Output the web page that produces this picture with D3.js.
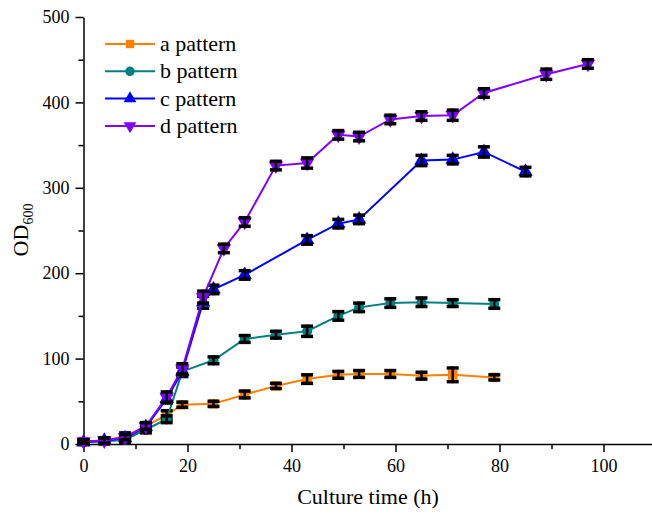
<!DOCTYPE html>
<html>
<head>
<meta charset="utf-8">
<script src="https://cdn.jsdelivr.net/npm/d3@7"></script>
<style>
  body { margin: 0; background: #fff; }
</style>
</head>
<body>
<div id="chart"></div>
<script>
// culture time (h) and OD600 readings per pattern
var timeA = [0, 4, 8, 12, 16, 19, 25, 31, 37, 43, 49, 53, 59, 65, 71, 79];
var valA  = [3, 4, 9, 21, 34, 46, 47, 58, 68, 76, 81, 82, 82, 80, 81, 78];
var errA  = [2, 3, 4, 4, 5, 3, 3, 4, 3, 5, 4, 4, 4, 4, 8, 3];

var timeB = [0, 4, 8, 12, 16, 19, 25, 31, 37, 43, 49, 53, 59, 65, 71, 79];
var valB  = [2, 3, 5, 17, 29, 85, 98, 123, 128, 132, 150, 160, 165, 166, 165, 164];
var errB  = [2, 3, 3, 4, 4, 5, 4, 4, 4, 6, 5, 5, 5, 5, 4, 5];

var timeC = [0, 4, 8, 12, 16, 19, 23, 25, 31, 43, 49, 53, 65, 71, 77, 85];
var valC  = [2, 4, 7, 20, 53, 85, 166, 181, 198, 239, 258, 263, 332, 333, 342, 319];
var errC  = [2, 3, 3, 4, 5, 6, 7, 5, 5, 5, 5, 5, 6, 5, 6, 5];

var timeD = [0, 4, 8, 12, 16, 19, 23, 27, 31, 37, 43, 49, 53, 59, 65, 71, 77, 89, 97];
var valD  = [3, 4, 8, 21, 55, 88, 172, 229, 260, 326, 329, 362, 360, 380, 384, 385, 411, 433, 445];
var errD  = [2, 3, 3, 4, 6, 6, 7, 5, 5, 5, 6, 5, 5, 5, 5, 6, 5, 6, 5];

var seriesNames = ["a pattern", "b pattern", "c pattern", "d pattern"];
var seriesColors = ["#ff8000", "#008080", "#0000ff", "#8000ff"];
var seriesShapes = [d3.symbolSquare, d3.symbolCircle, d3.symbolTriangle, "down"];

var xTicks = [0, 20, 40, 60, 80, 100];
var yTicks = [0, 100, 200, 300, 400, 500];

var FONT = "'Liberation Serif', 'Times New Roman', serif";

function pack(t, v, e) {
  return t.map(function (d, i) { return { t: d, v: v[i], e: e[i] }; });
}
var allSeries = [pack(timeA, valA, errA), pack(timeB, valB, errB),
                 pack(timeC, valC, errC), pack(timeD, valD, errD)];

var W = 652, H = 520;
var svg = d3.select("#chart").append("svg").attr("width", W).attr("height", H);

var x = d3.scaleLinear().domain([0, 110]).range([83.5, 655.5]);
var y = d3.scaleLinear().domain([0, 500]).range([444, 17]);

// minor ticks
svg.append("g")
  .attr("transform", "translate(0,444)")
  .call(d3.axisBottom(x).tickValues(d3.range(10, 111, 20)).tickSize(5).tickFormat(""))
  .call(function (g) { g.select(".domain").remove(); g.selectAll("line").attr("stroke-width", 1.5); });
svg.append("g")
  .attr("transform", "translate(83.5,0)")
  .call(d3.axisLeft(y).tickValues(d3.range(50, 500, 100)).tickSize(5).tickFormat(""))
  .call(function (g) { g.select(".domain").remove(); g.selectAll("line").attr("stroke-width", 1.5); });

// main axes
var xAxis = svg.append("g")
  .attr("transform", "translate(0,444)")
  .call(d3.axisBottom(x).tickValues(xTicks).tickSize(8).tickPadding(7).tickSizeOuter(0));
var yAxis = svg.append("g")
  .attr("transform", "translate(83.5,0)")
  .call(d3.axisLeft(y).tickValues(yTicks).tickSize(8).tickPadding(6).tickSizeOuter(0));
[xAxis, yAxis].forEach(function (g) {
  g.select(".domain").attr("stroke-width", 1.5);
  g.selectAll("line").attr("stroke-width", 1.5);
  g.selectAll("text")
    .style("font-family", FONT)
    .style("font-size", "18px")
    .attr("fill", "#000");
});

// axis titles
svg.append("text")
  .attr("x", 368).attr("y", 504)
  .attr("text-anchor", "middle")
  .style("font-family", FONT)
  .style("font-size", "22px")
  .text("Culture time (h)");

var yl = svg.append("text")
  .attr("transform", "translate(28,230) rotate(-90)")
  .attr("text-anchor", "middle")
  .style("font-family", FONT)
  .style("font-size", "22px");
yl.append("tspan").text("OD");
yl.append("tspan").attr("dy", 5).style("font-size", "14px").text("600");

function markerPath(shape, size) {
  if (shape === "down") return d3.symbol().type(d3.symbolTriangle).size(size)();
  return d3.symbol().type(shape).size(size)();
}

var line = d3.line()
  .x(function (d) { return x(d.t); })
  .y(function (d) { return y(d.v); });

allSeries.forEach(function (data, i) {
  var g = svg.append("g");
  var col = seriesColors[i];

  g.append("path")
    .datum(data)
    .attr("fill", "none")
    .attr("stroke", col)
    .attr("stroke-width", 2)
    .attr("d", line);

  g.selectAll("path.mk")
    .data(data)
    .enter().append("path")
    .attr("class", "mk")
    .attr("d", markerPath(seriesShapes[i], seriesShapes[i] === d3.symbolCircle ? 80 : 90))
    .attr("transform", function (d) {
      return "translate(" + x(d.t) + "," + y(d.v) + ")" + (seriesShapes[i] === "down" ? " rotate(180)" : "");
    })
    .attr("fill", col);

  // error bars
  var eb = g.selectAll("g.eb").data(data).enter().append("g").attr("class", "eb");
  eb.append("line")
    .attr("x1", function (d) { return x(d.t); })
    .attr("x2", function (d) { return x(d.t); })
    .attr("y1", function (d) { return y(d.v - d.e) + 1.5; })
    .attr("y2", function (d) { return y(d.v + d.e) - 1.5; })
    .attr("stroke", "#000").attr("stroke-width", 2.5);
  eb.append("line")
    .attr("x1", function (d) { return x(d.t) - 6; })
    .attr("x2", function (d) { return x(d.t) + 6; })
    .attr("y1", function (d) { return y(d.v + d.e); })
    .attr("y2", function (d) { return y(d.v + d.e); })
    .attr("stroke", "#000").attr("stroke-width", 3.5);
  eb.append("line")
    .attr("x1", function (d) { return x(d.t) - 6; })
    .attr("x2", function (d) { return x(d.t) + 6; })
    .attr("y1", function (d) { return y(d.v - d.e); })
    .attr("y2", function (d) { return y(d.v - d.e); })
    .attr("stroke", "#000").attr("stroke-width", 3.5);
});

// legend
var legend = svg.append("g");
seriesNames.forEach(function (name, i) {
  var ly = 44 + i * 27.3;
  var row = legend.append("g").attr("transform", "translate(0," + ly + ")");
  row.append("line").attr("x1", 105).attr("x2", 155).attr("y1", 0).attr("y2", 0)
    .attr("stroke", seriesColors[i]).attr("stroke-width", 2);
  row.append("path")
    .attr("d", markerPath(seriesShapes[i], 70))
    .attr("transform", "translate(130,0)" + (seriesShapes[i] === "down" ? " rotate(180)" : ""))
    .attr("fill", seriesColors[i]);
  row.append("text").attr("x", 160).attr("y", 7)
    .style("font-family", FONT)
    .style("font-size", "22px")
    .text(name);
});
</script>
</body>
</html>
